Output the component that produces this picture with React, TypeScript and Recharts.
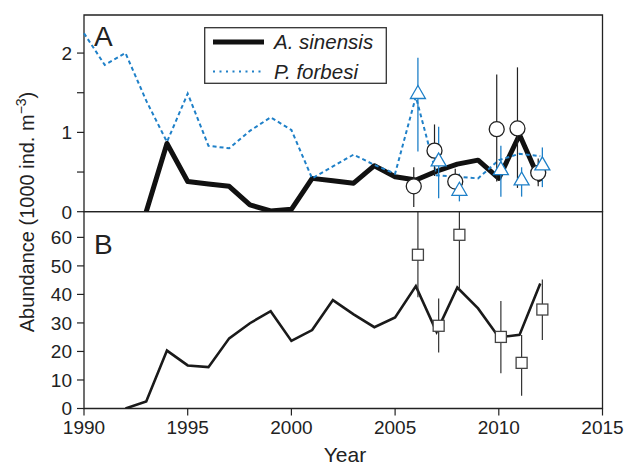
import React from 'react';
import { ComposedChart, Line, Scatter, ErrorBar, XAxis, YAxis, Legend, ReferenceArea } from 'recharts';

const yearTicks = [1990, 1995, 2000, 2005, 2010, 2015];
const ticksA = [0, 0.5, 1, 1.5, 2];
const ticksB = [0, 10, 20, 30, 40, 50, 60];

const sinensisYears = [1993, 1994, 1995, 1996, 1997, 1998, 1999, 2000, 2001, 2002, 2003, 2004, 2005, 2006, 2007, 2008, 2009, 2010, 2011, 2012];
const sinensisValues = [0, 0.86, 0.38, 0.35, 0.32, 0.085, 0.01, 0.03, 0.42, 0.39, 0.36, 0.58, 0.44, 0.4, 0.51, 0.6, 0.65, 0.42, 0.97, 0.38];

const forbesiYears = [1990, 1991, 1992, 1993, 1994, 1995, 1996, 1997, 1998, 1999, 2000, 2001, 2002, 2003, 2004, 2005, 2006, 2007, 2008, 2009, 2010, 2011, 2012];
const forbesiValues = [2.25, 1.85, 2.0, 1.4, 0.88, 1.49, 0.83, 0.8, 1.02, 1.19, 1.03, 0.42, 0.57, 0.72, 0.59, 0.48, 1.45, 0.46, 0.44, 0.42, 0.65, 0.73, 0.7];

const totalYears = [1992, 1993, 1994, 1995, 1996, 1997, 1998, 1999, 2000, 2001, 2002, 2003, 2004, 2005, 2006, 2007, 2008, 2009, 2010, 2011, 2012];
const totalValues = [0, 2.5, 20.3, 15.1, 14.5, 24.6, 29.9, 34.1, 23.7, 27.5, 38.0, 33.0, 28.5, 31.9, 42.9, 26.9, 42.4, 35.1, 25.0, 25.8, 43.8];

const obsYears = [2006, 2007, 2008, 2010, 2011, 2012];
const sinensisObs = [0.32, 0.77, 0.38, 1.04, 1.05, 0.49];
const sinensisLow = [0.06, 0.45, 0.25, 0.38, 0.3, 0.32];
const sinensisHigh = [0.56, 1.1, 0.54, 1.73, 1.82, 0.67];

const forbesiObs = [1.49, 0.64, 0.27, 0.53, 0.4, 0.59];
const forbesiLow = [0.76, 0.17, 0.13, 0.19, 0.19, 0.31];
const forbesiHigh = [1.94, 1.07, 0.48, 0.83, 0.56, 0.81];

const totalObs = [53.9, 29.0, 60.9, 25.1, 16.0, 34.7];
const totalLow = [39, 19.6, 42, 12.4, 4.5, 24];
const totalHigh = [69, 38.6, 69, 37.7, 25.8, 45.2];

const CIRCLE_SHIFT = -0.1;
const OTHER_SHIFT = 0.1;

const FONT = '"Liberation Sans", Arial, Helvetica, sans-serif';
const AX = '#222';
const BLUE = '#1f80c8';
const OUT_TICK = 7;
const IN_TICK = 5;
const LABEL_GAP = 5;

const toLine = (xs: number[], ys: number[]) => xs.map((x, i) => ({ x, y: ys[i] }));
const toObs = (vals: number[], lo: number[], hi: number[], shift: number) =>
  obsYears.map((yr, i) => ({ x: yr + shift, y: vals[i], err: [vals[i] - lo[i], hi[i] - vals[i]] }));

const sinensisLine = toLine(sinensisYears, sinensisValues);
const forbesiLine = toLine(forbesiYears, forbesiValues);
const totalLine = toLine(totalYears, totalValues);
const sinensisPts = toObs(sinensisObs, sinensisLow, sinensisHigh, CIRCLE_SHIFT);
const forbesiPts = toObs(forbesiObs, forbesiLow, forbesiHigh, OTHER_SHIFT);
const totalPts = toObs(totalObs, totalLow, totalHigh, OTHER_SHIFT);

const Mark = ({ x1, y1, x2, y2 }: any) => <line x1={x1} y1={y1} x2={x2} y2={y2} stroke={AX} strokeWidth={1.2} />;

// Recharts passes the tick end point (tickMargin = 0) as x, y.
const leftTick = (fmt: (v: number) => string) => (p: any) => {
  const txt = fmt(p.payload.value);
  return (
    <g>
      <Mark x1={p.x} y1={p.y} x2={p.x + OUT_TICK} y2={p.y} />
      {txt ? (
        <text x={p.x - LABEL_GAP} y={p.y} dy="0.36em" textAnchor="end" fontSize={19} fontFamily={FONT} fill="#222">
          {txt}
        </text>
      ) : null}
    </g>
  );
};
const rightInTick = (p: any) => <Mark x1={p.x} y1={p.y} x2={p.x + IN_TICK} y2={p.y} />;
const topInTick = (p: any) => <Mark x1={p.x} y1={p.y - IN_TICK} x2={p.x} y2={p.y} />;
const bottomInTick = (p: any) => <Mark x1={p.x} y1={p.y} x2={p.x} y2={p.y + IN_TICK} />;
const bottomOutTick = (p: any) => (
  <g>
    <Mark x1={p.x} y1={p.y - OUT_TICK} x2={p.x} y2={p.y} />
    <text x={p.x} y={p.y + LABEL_GAP} dy="0.72em" textAnchor="middle" fontSize={19} fontFamily={FONT} fill="#222">
      {String(p.payload.value)}
    </text>
  </g>
);
const tickA = leftTick((v: number) => (Number.isInteger(v) ? String(v) : ''));
const tickB = leftTick((v: number) => String(v));

const CircleShape = (p: any) => <circle cx={p.cx} cy={p.cy} r={7.5} fill="#fff" stroke="#222" strokeWidth={1.3} />;
const TriShape = (p: any) => (
  <polygon
    points={`${p.cx},${p.cy - 8} ${p.cx - 7.5},${p.cy + 5} ${p.cx + 7.5},${p.cy + 5}`}
    fill="#fff"
    stroke={BLUE}
    strokeWidth={1.3}
  />
);
const SquareShape = (p: any) => <rect x={p.cx - 5.5} y={p.cy - 5.5} width={11} height={11} fill="#fff" stroke="#444" strokeWidth={1.3} />;

const LegendBox = (props: any) => {
  const payload = (props.payload || []).filter((e: any) => e.type !== 'none');
  return (
    <svg width={183} height={57} style={{ display: 'block' }}>
      <rect x={0.7} y={0.7} width={181.6} height={55.6} fill="#fff" stroke="#333" strokeWidth={1.3} />
      {payload.map((e: any, i: number) => {
        const y = 15 + i * 29.5;
        const dotted = i === 1;
        return (
          <g key={i}>
            <line x1={9} x2={60} y1={y} y2={y} stroke={e.color} strokeWidth={dotted ? 2 : 5} strokeDasharray={dotted ? '2 4.5' : undefined} />
            <text x={70} y={y + 7} fontSize={20.5} fontStyle="italic" fontFamily={FONT} fill="#222">
              {e.value}
            </text>
          </g>
        );
      })}
    </svg>
  );
};

export default function App() {
  return (
    <div style={{ position: 'absolute', left: 0, top: 0, width: 625, height: 466, background: '#fff' }}>
      <div style={{ position: 'absolute', left: 0, top: 0 }}>
        <ComposedChart width={625} height={466} margin={{ top: 211.7, right: 22.5, bottom: 27.5, left: 0 }}>
          <XAxis xAxisId="b" dataKey="x" type="number" domain={[1990, 2015]} ticks={yearTicks} orientation="bottom" height={30} tickSize={OUT_TICK} tickMargin={0} tick={bottomOutTick} axisLine={false} tickLine={false} />
          <XAxis xAxisId="t" dataKey="x" type="number" domain={[1990, 2015]} ticks={yearTicks} orientation="top" height={0} mirror tickSize={IN_TICK} tickMargin={0} tick={topInTick} axisLine={false} tickLine={false} />
          <YAxis yAxisId="l" type="number" domain={[0, 69]} ticks={ticksB} allowDataOverflow width={84} tickSize={OUT_TICK} tickMargin={0} tick={tickB} axisLine={false} tickLine={false} />
          <YAxis yAxisId="r" type="number" orientation="right" domain={[0, 69]} ticks={ticksB} allowDataOverflow width={0} mirror tickSize={IN_TICK} tickMargin={0} tick={rightInTick} axisLine={false} tickLine={false} />
          <ReferenceArea xAxisId="b" yAxisId="l" x1={1990} x2={2015} y1={0} y2={69} fill="none" stroke={AX} strokeWidth={1.3} ifOverflow="visible" />
          <Line xAxisId="b" yAxisId="l" data={totalLine} dataKey="y" stroke="#1a1a1a" strokeWidth={2.6} dot={false} isAnimationActive={false} />
          <Scatter xAxisId="b" yAxisId="l" data={totalPts} dataKey="y" shape={SquareShape} isAnimationActive={false} legendType="none">
            <ErrorBar dataKey="err" direction="y" width={0} stroke="#333" strokeWidth={1.2} />
          </Scatter>
        </ComposedChart>
      </div>
      <div style={{ position: 'absolute', left: 0, top: 0 }}>
        <ComposedChart width={625} height={230} margin={{ top: 15, right: 22.5, bottom: 18.3, left: 0 }}>
          <XAxis xAxisId="b" dataKey="x" type="number" domain={[1990, 2015]} ticks={yearTicks} orientation="bottom" height={0} mirror tickSize={IN_TICK} tickMargin={0} tick={bottomInTick} axisLine={false} tickLine={false} />
          <XAxis xAxisId="t" dataKey="x" type="number" domain={[1990, 2015]} ticks={yearTicks} orientation="top" height={0} mirror tickSize={IN_TICK} tickMargin={0} tick={topInTick} axisLine={false} tickLine={false} />
          <YAxis yAxisId="l" type="number" domain={[0, 2.48]} ticks={ticksA} allowDataOverflow width={84} tickSize={OUT_TICK} tickMargin={0} tick={tickA} axisLine={false} tickLine={false} />
          <YAxis yAxisId="r" type="number" orientation="right" domain={[0, 2.48]} ticks={ticksA} allowDataOverflow width={0} mirror tickSize={IN_TICK} tickMargin={0} tick={rightInTick} axisLine={false} tickLine={false} />
          <ReferenceArea xAxisId="b" yAxisId="l" x1={1990} x2={2015} y1={0} y2={2.48} fill="none" stroke={AX} strokeWidth={1.3} ifOverflow="visible" />
          <Legend layout="horizontal" verticalAlign="middle" align="center" content={LegendBox} wrapperStyle={{ position: 'absolute', left: 204, top: 27, width: 183, height: 57 }} />
          <Line name="A. sinensis" xAxisId="b" yAxisId="l" data={sinensisLine} dataKey="y" stroke="#111" strokeWidth={5} strokeLinejoin="round" dot={false} isAnimationActive={false} />
          <Line name="P. forbesi" xAxisId="b" yAxisId="l" data={forbesiLine} dataKey="y" stroke={BLUE} strokeWidth={2} strokeDasharray="4 3" dot={false} isAnimationActive={false} />
          <Scatter xAxisId="b" yAxisId="l" data={sinensisPts} dataKey="y" shape={CircleShape} isAnimationActive={false} legendType="none">
            <ErrorBar dataKey="err" direction="y" width={0} stroke="#222" strokeWidth={1.2} />
          </Scatter>
          <Scatter xAxisId="b" yAxisId="l" data={forbesiPts} dataKey="y" shape={TriShape} isAnimationActive={false} legendType="none">
            <ErrorBar dataKey="err" direction="y" width={0} stroke={BLUE} strokeWidth={1.3} />
          </Scatter>
        </ComposedChart>
      </div>
      <svg width={625} height={466} style={{ position: 'absolute', left: 0, top: 0, pointerEvents: 'none' }}>
        <text x={94} y={46} fontSize={28} fontFamily={FONT} fill="#222">A</text>
        <text x={94} y={254} fontSize={28} fontFamily={FONT} fill="#222">B</text>
        <text x={345} y={462} fontSize={21} fontFamily={FONT} fill="#222" textAnchor="middle">Year</text>
        <text transform="translate(33.5,212) rotate(-90)" x={0} y={0} fontSize={20} fontFamily={FONT} fill="#222" textAnchor="middle">
          Abundance (1000 ind. m<tspan dy={-8} fontSize={14}>−3</tspan><tspan dy={8}>)</tspan>
        </text>
      </svg>
    </div>
  );
}
